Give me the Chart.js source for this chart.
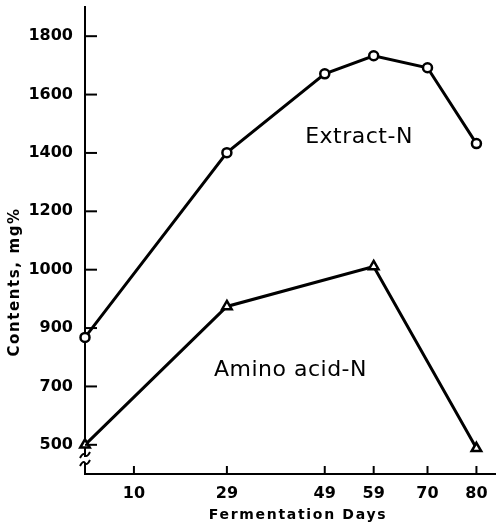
<!DOCTYPE html>
<html><head><meta charset="utf-8">
<script src="https://cdn.jsdelivr.net/npm/chart.js@4/dist/chart.umd.min.js"></script>
<style>html,body{margin:0;padding:0;background:#fff}#wrap{width:496px;height:524px}</style>
</head><body><div id="wrap"><canvas id="c" width="496" height="524"></canvas></div>
<script>
// ---- data (y values in the axis' evenly spaced units; lower tick labels are printed as 500/700/900) ----
const extractDays = [0, 29, 49, 59, 70, 80];
const extractN = [768, 1401, 1671, 1733, 1692, 1432];
const aminoDays = [0, 29, 59, 80];
const aminoAcidN = [400, 874, 1011, 388];
const xTickValues = [10, 29, 49, 59, 70, 80];
const yTickValues = [400, 600, 800, 1000, 1200, 1400, 1600, 1800];
const yTickLabels = ['500', '700', '900', '1000', '1200', '1400', '1600', '1800'];
const seriesLabels = ['Extract-N', 'Amino acid-N'];
const seriesLabelAnchors = [[56, 1452], [42, 654]]; // [day, value] where each curve's name sits
const xTitle = 'Fermentation Days';
const yTitle = 'Contents, mg%';

const tickFont = {family: 'DejaVu Sans', size: 16, weight: 'bold'};

const noPad = s => { s.paddingTop = 0; s.paddingBottom = 0; s.paddingLeft = 0; s.paddingRight = 0; };

const extras = {
  id: 'extras',
  afterDraw(chart) {
    const ctx = chart.ctx, ca = chart.chartArea;
    const xs = chart.scales.x, ys = chart.scales.y;
    ctx.save();
    ctx.strokeStyle = '#000';
    ctx.lineWidth = 2;
    // inward tick marks
    yTickValues.forEach(v => {
      const y = ys.getPixelForValue(v);
      ctx.beginPath(); ctx.moveTo(ca.left, y); ctx.lineTo(ca.left + 12, y); ctx.stroke();
    });
    xTickValues.forEach(v => {
      const x = xs.getPixelForValue(v);
      ctx.beginPath(); ctx.moveTo(x, ca.bottom); ctx.lineTo(x, ca.bottom - 8); ctx.stroke();
    });
    // axis break
    ctx.fillStyle = '#fff';
    ctx.fillRect(ca.left - 3, ca.bottom - 17, 6, 6);
    [ca.bottom - 19, ca.bottom - 11].forEach(y => {
      ctx.beginPath();
      ctx.moveTo(ca.left - 5, y + 3);
      ctx.quadraticCurveTo(ca.left - 2, y - 3, ca.left, y);
      ctx.quadraticCurveTo(ca.left + 2, y + 3, ca.left + 5, y - 3);
      ctx.stroke();
    });
    // titles
    ctx.fillStyle = '#000';
    ctx.textAlign = 'center';
    ctx.textBaseline = 'middle';
    ctx.font = 'bold 14px "DejaVu Sans"';
    ctx.letterSpacing = '1.7px';
    ctx.fillText(xTitle, 298, 515);
    ctx.save();
    ctx.translate(15, 282);
    ctx.rotate(-Math.PI / 2);
    ctx.font = 'bold 15px "DejaVu Sans"';
    ctx.letterSpacing = '1.6px';
    ctx.fillText(yTitle, 0, 0);
    ctx.restore();
    // curve names
    ctx.font = '22px "DejaVu Sans"';
    ctx.letterSpacing = '0.5px';
    seriesLabels.forEach((t, i) => {
      const [d, v] = seriesLabelAnchors[i];
      ctx.fillText(t, xs.getPixelForValue(d), ys.getPixelForValue(v));
    });
    ctx.restore();
  }
};

new Chart(document.getElementById('c'), {
  type: 'line',
  data: {
    datasets: [
      {
        label: seriesLabels[0],
        data: extractDays.map((d, i) => ({x: d, y: extractN[i]})),
        borderColor: '#000', borderWidth: 3, tension: 0,
        pointStyle: 'circle', pointRadius: 4.5, pointBorderWidth: 2.5,
        pointBackgroundColor: '#fff', pointBorderColor: '#000', clip: false
      },
      {
        label: seriesLabels[1],
        data: aminoDays.map((d, i) => ({x: d, y: aminoAcidN[i]})),
        borderColor: '#000', borderWidth: 3, tension: 0,
        pointStyle: 'triangle', pointRadius: 5.5, pointBorderWidth: 2.5,
        pointBackgroundColor: '#fff', pointBorderColor: '#000', clip: false
      }
    ]
  },
  options: {
    responsive: false,
    animation: false,
    devicePixelRatio: 1,
    layout: {autoPadding: false, padding: {top: 7, right: 0, bottom: 0, left: 0}},
    plugins: {legend: {display: false}, tooltip: {enabled: false}},
    scales: {
      x: {
        type: 'linear', min: 0, max: 84,
        afterBuildTicks: s => { s.ticks = xTickValues.map(v => ({value: v})); },
        afterFit: s => { s.height = 50; noPad(s); },
        ticks: {font: tickFont, color: '#000', padding: 2, maxRotation: 0, autoSkip: false},
        grid: {display: false},
        border: {display: true, color: '#000', width: 2}
      },
      y: {
        type: 'linear', min: 300, max: 1900,
        afterBuildTicks: s => { s.ticks = yTickValues.map(v => ({value: v})); },
        afterFit: s => { s.width = 85; noPad(s); },
        ticks: {font: tickFont, color: '#000', padding: 4, autoSkip: false,
                callback: v => yTickLabels[yTickValues.indexOf(v)]},
        grid: {display: false},
        border: {display: true, color: '#000', width: 2}
      }
    }
  },
  plugins: [extras]
});
</script></body></html>
